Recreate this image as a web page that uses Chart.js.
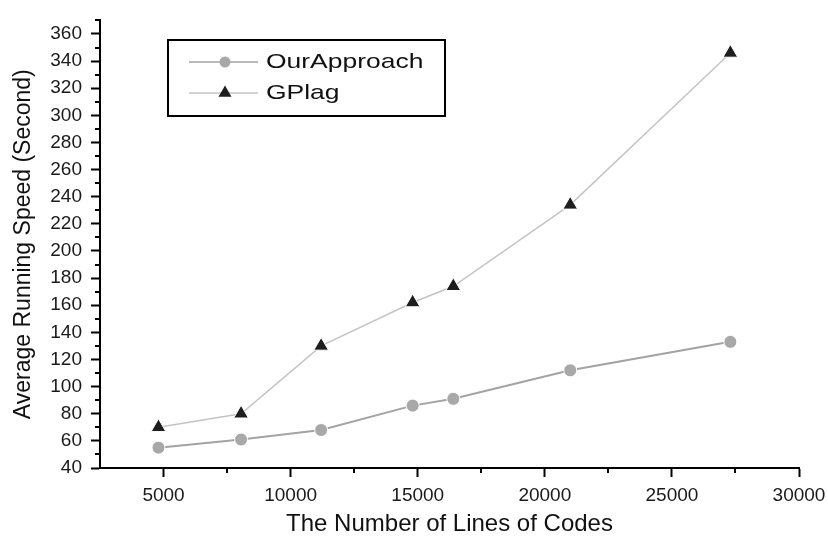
<!DOCTYPE html>
<html>
<head>
<meta charset="utf-8">
<title>Average Running Speed</title>
<script src="https://cdn.jsdelivr.net/npm/chart.js@4.4.0/dist/chart.umd.min.js"></script>
<style>
    html, body { margin: 0; padding: 0; background: #fff; }
    #wrap { width: 828px; height: 541px; }
</style>
</head>
<body>
<div id="wrap"><canvas id="speed-chart"></canvas></div>
<script>
// ---- data ----
var linesOfCode = [4800, 8050, 11200, 14800, 16400, 21000, 27300];
var ourApproach = [55, 61, 68, 86, 91, 112, 133];
var gPlag = [70, 80, 130, 162, 174, 234, 346];
var seriesNames = ['OurApproach', 'GPlag'];
var xTicks = [5000, 10000, 15000, 20000, 25000, 30000];
var yTicks = [40, 60, 80, 100, 120, 140, 160, 180, 200, 220, 240, 260, 280, 300, 320, 340, 360];
var xMinor = [7500, 12500, 17500, 22500, 27500];
var yMinor = [50, 70, 90, 110, 130, 150, 170, 190, 210, 230, 250, 270, 290, 310, 330, 350, 370];

function toPoints(xs, ys) {
    var out = [];
    for (var i = 0; i < xs.length; i++) {
        out.push({ x: xs[i], y: ys[i] });
    }
    return out;
}

var FONT = '"Liberation Sans", Arial, sans-serif';

// small ticks between the labelled ones
var minorTicks = {
    id: 'minorTicks',
    afterDraw: function (chart) {
        var ctx = chart.ctx;
        var xs = chart.scales.x, ys = chart.scales.y;
        ctx.save();
        ctx.strokeStyle = '#000';
        ctx.lineWidth = 2;
        ctx.beginPath();
        yMinor.forEach(function (v) {
            var py = Math.round(ys.getPixelForValue(v));
            ctx.moveTo(ys.right, py);
            ctx.lineTo(ys.right - 5, py);
        });
        xMinor.forEach(function (v) {
            var px = Math.round(xs.getPixelForValue(v));
            ctx.moveTo(px, xs.top);
            ctx.lineTo(px, xs.top + 5);
        });
        ctx.stroke();
        ctx.restore();
    }
};

// framed legend inside the plot, line through the marker
var boxLegend = {
    id: 'boxLegend',
    afterDraw: function (chart) {
        var ctx = chart.ctx;
        ctx.save();
        ctx.strokeStyle = '#000';
        ctx.lineWidth = 2;
        ctx.strokeRect(168, 40, 277, 76);
        chart.data.datasets.forEach(function (ds, i) {
            var y = 62 + i * 31;
            ctx.strokeStyle = ds.borderColor;
            ctx.lineWidth = 1.5;
            ctx.beginPath();
            ctx.moveTo(189, y);
            ctx.lineTo(258, y);
            ctx.stroke();
            ctx.fillStyle = ds.pointBackgroundColor;
            Chart.helpers.drawPoint(ctx, {
                pointStyle: ds.pointStyle,
                radius: ds.pointRadius - 1,
                borderWidth: 0,
                rotation: 0
            }, 225, y);
            ctx.fillStyle = '#111';
            ctx.font = '21px ' + FONT;
            ctx.textBaseline = 'middle';
            ctx.textAlign = 'left';
            ctx.save();
            ctx.translate(266, y);
            ctx.scale(1.26, 1);
            ctx.fillText(ds.label, 0, 0);
            ctx.restore();
        });
        ctx.restore();
    }
};

var ctx = document.getElementById('speed-chart');
var chart = new Chart(ctx, {
    type: 'line',
    data: {
        datasets: [{
            label: seriesNames[0],
            data: toPoints(linesOfCode, ourApproach),
            borderColor: '#a3a3a3',
            borderWidth: 2,
            pointStyle: 'circle',
            pointRadius: 6.5,
            pointBackgroundColor: '#a8a8a8',
            pointBorderColor: '#fff',
            pointBorderWidth: 1,
            tension: 0
        },
        {
            label: seriesNames[1],
            data: toPoints(linesOfCode, gPlag),
            borderColor: '#c4c4c4',
            borderWidth: 1.5,
            pointStyle: 'triangle',
            pointRadius: 8.5,
            pointBackgroundColor: '#1e1e1e',
            pointBorderColor: '#fff',
            pointBorderWidth: 1,
            tension: 0
        }]
    },
    options: {
        responsive: true,
        maintainAspectRatio: false,
        animation: false,
        layout: { padding: { top: 11, right: 29, bottom: 0, left: 0 } },
        plugins: {
            legend: { display: false },
            tooltip: { enabled: false }
        },
        scales: {
            x: {
                type: 'linear',
                min: 2500,
                max: 30000,
                afterBuildTicks: function (scale) {
                    scale.ticks = xTicks.map(function (v) { return { value: v }; });
                },
                afterFit: function (scale) {
                    scale.height = 73;
                    scale.paddingLeft = 0;
                    scale.paddingRight = 0;
                },
                border: { display: true, color: '#000', width: 2 },
                grid: { drawOnChartArea: false, drawTicks: true, tickLength: 9, tickWidth: 2, tickColor: '#000' },
                ticks: {
                    color: '#1a1a1a',
                    padding: 7,
                    maxRotation: 0,
                    font: { family: FONT, size: 19 },
                    callback: function (v) { return String(v); }
                },
                title: {
                    display: true,
                    text: 'The Number of Lines of Codes',
                    color: '#111',
                    font: { family: FONT, size: 24 },
                    padding: { top: 0, bottom: 2 }
                }
            },
            y: {
                type: 'linear',
                min: 40,
                max: 370,
                afterBuildTicks: function (scale) {
                    scale.ticks = yTicks.map(function (v) { return { value: v }; });
                },
                afterFit: function (scale) { scale.width = 100; },
                border: { display: true, color: '#000', width: 2 },
                grid: { drawOnChartArea: false, drawTicks: true, tickLength: 9, tickWidth: 2, tickColor: '#000' },
                ticks: {
                    color: '#1a1a1a',
                    padding: 9,
                    font: { family: FONT, size: 19 },
                    callback: function (v) { return String(v); }
                },
                title: {
                    display: true,
                    text: 'Average Running Speed (Second)',
                    color: '#111',
                    font: { family: FONT, size: 23 },
                    padding: { top: 10, bottom: 0 }
                }
            }
        }
    },
    plugins: [minorTicks, boxLegend]
});
</script>
</body>
</html>
